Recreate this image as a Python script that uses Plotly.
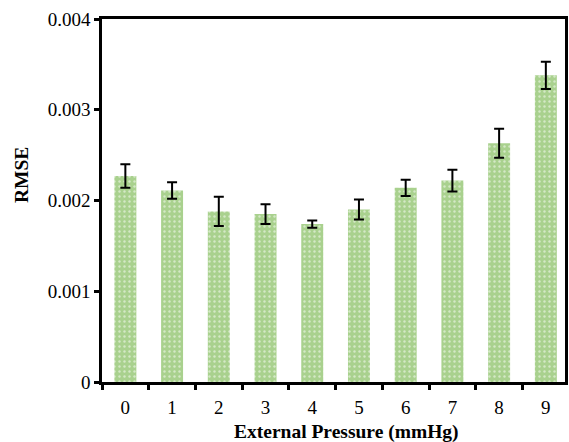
import plotly.graph_objects as go

categories = ["0", "1", "2", "3", "4", "5", "6", "7", "8", "9"]
rmse = [0.00227, 0.00211, 0.00188, 0.00185, 0.00174, 0.00190, 0.00214, 0.00222, 0.00263, 0.00338]
err = [0.00013, 0.00009, 0.00016, 0.00011, 0.00004, 0.00011, 0.00009, 0.00012, 0.00016, 0.00015]
y_ticks = [0, 0.001, 0.002, 0.003, 0.004]
y_tick_text = ["0", "0.001", "0.002", "0.003", "0.004"]

fig = go.Figure()
fig.add_trace(go.Bar(
    x=categories, y=rmse, width=0.47,
    marker=dict(color="#a9d18e", line=dict(width=0),
                pattern=dict(shape=".", fgcolor="white", bgcolor="#a9d18e",
                             size=5, solidity=0.18, fillmode="overlay")),
    error_y=dict(type="data", array=err, color="black", thickness=2, width=5),
))

font = "Liberation Serif, Times New Roman, serif"
fig.update_layout(
    width=569, height=442,
    margin=dict(l=102, r=4, t=19, b=60),
    paper_bgcolor="white", plot_bgcolor="white",
    showlegend=False,
    font=dict(family=font, size=19, color="black"),
    xaxis=dict(
        type="category", range=[-0.5, 9.41], automargin=False,
        tickson="boundaries", ticks="outside", ticklen=5, tickwidth=2.5, tickcolor="black",
        showline=True, linewidth=2.5, linecolor="black", mirror=True,
        showgrid=False, zeroline=False, ticklabelstandoff=6,
        tickfont=dict(family=font, size=19),
    ),
    yaxis=dict(
        range=[0, 0.004], tickvals=y_ticks, ticktext=y_tick_text, automargin=False,
        ticks="outside", ticklen=5, tickwidth=2.5, tickcolor="black",
        showline=True, linewidth=2.5, linecolor="black", mirror=True,
        showgrid=False, zeroline=False,
        tickfont=dict(family=font, size=19),
    ),
    annotations=[
        dict(text="<b>RMSE</b>", textangle=-90, showarrow=False,
             xref="paper", yref="paper", x=-0.175, y=0.57, xanchor="center", yanchor="middle",
             font=dict(family=font, size=19.5)),
        dict(text="<b>External Pressure (mmHg)</b>", showarrow=False,
             xref="paper", yref="paper", x=0.529, y=-0.138, xanchor="center", yanchor="middle",
             font=dict(family=font, size=19.5)),
    ],
)

fig.write_html("out.html", config={"displayModeBar": False},
               post_script="document.body.style.margin='0';document.body.style.overflow='hidden';")
